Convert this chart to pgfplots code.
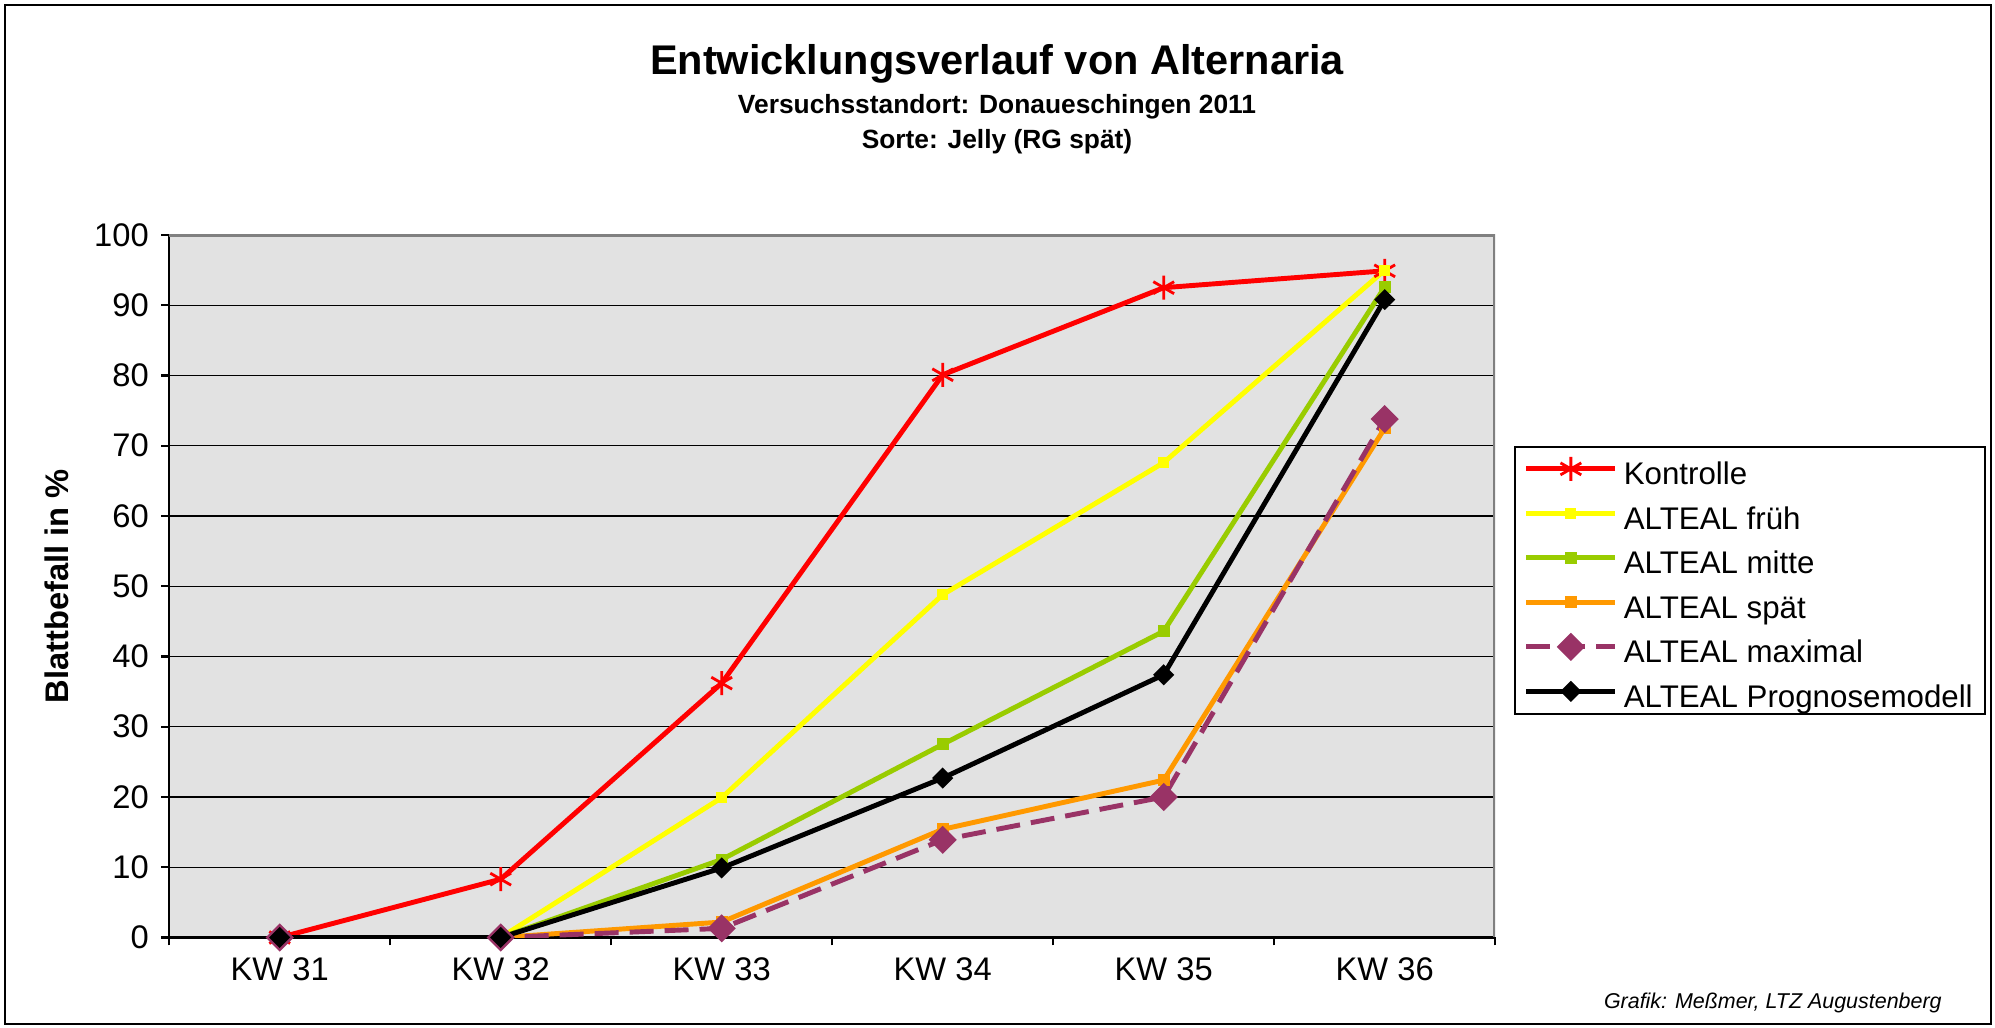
\documentclass[border=0pt]{standalone}
\usepackage{fontspec}
\setmainfont{Liberation Sans}
\usepackage{pgfplots}
\pgfplotsset{compat=1.18}
\definecolor{kontr}{RGB}{255,0,0}
\definecolor{frueh}{RGB}{255,255,0}
\definecolor{mitte}{RGB}{153,204,0}
\definecolor{spaet}{RGB}{255,153,0}
\definecolor{maxi}{RGB}{153,51,102}
\definecolor{bg}{RGB}{226,226,226}
\begin{document}
\begin{tikzpicture}
\useasboundingbox (0,0) rectangle (199.5mm,102.8mm);
\draw[line width=0.6pt] (0.5mm,0.4mm) rectangle (199.1mm,102.3mm);
\node[font=\fontsize{11.8}{14}\selectfont\bfseries] at (99.7mm,96.4mm) {Entwicklungsverlauf von Alternaria};
\node[font=\fontsize{7.5}{9}\selectfont\bfseries] at (99.7mm,92.1mm) {Versuchsstandort: Donaueschingen 2011};
\node[font=\fontsize{7.5}{9}\selectfont\bfseries] at (99.7mm,88.6mm) {Sorte: Jelly (RG spät)};
\node[font=\fontsize{6.1}{7}\selectfont\itshape, anchor=east] at (195.4mm,2.5mm) {Grafik: Meßmer, LTZ Augustenberg};
\begin{axis}[
  at={(16.92mm,9.05mm)}, anchor=south west, scale only axis,
  width=132.6mm, height=70.25mm,
  xmin=-0.5, xmax=5.5, ymin=0, ymax=100,
  xtick={-0.5,0.5,1.5,2.5,3.5,4.5,5.5},
  x tick label as interval,
  xticklabels={KW 31,KW 32,KW 33,KW 34,KW 35,KW 36},
  ytick={0,10,...,100},
  ymajorgrids, grid style={black, line width=0.4pt},
  axis x line*=bottom, axis y line*=left,
  axis line style={-, black, line width=0.7pt},
  axis background/.style={fill=bg},
  tick align=outside, major tick length=0.8mm,
  tick style={black, line width=0.6pt},
  /pgf/number format/assume math mode=true,
  ticklabel style={font=\fontsize{9.3}{11}\selectfont},
  ylabel={Blattbefall in \%},
  ylabel style={font=\fontsize{9.3}{11}\selectfont\bfseries, at={(axis description cs:-0.0845,0.5)}, anchor=center},
  legend style={at={(axis description cs:1.0142,0.700)}, anchor=north west, draw=black, line width=0.5pt, fill=white,
    font=\fontsize{8.9}{10}\selectfont, inner xsep=0.9mm, inner ysep=0mm,
    nodes={inner xsep=0.3mm, inner ysep=0.2mm, text height=3.6mm, text depth=0.45mm},
    /tikz/every odd column/.append style={column sep=0.3mm}},
  legend cell align=left,
  legend image code/.code={\draw[mark repeat=2,mark phase=2] plot coordinates {(0mm,0mm) (4.45mm,0mm) (8.9mm,0mm)};},
]
\addplot[kontr, line width=1.4pt, mark=asterisk, mark size=1.2mm, mark options={line width=0.8pt}] coordinates {(0,0) (1,8.3) (2,36.2) (3,80.1) (4,92.5) (5,94.9)};
\addlegendentry{Kontrolle}
\addplot[frueh, line width=1.4pt, mark=square*, mark size=0.3mm] coordinates {(0,0) (1,0) (2,19.9) (3,48.8) (4,67.6) (5,95.0)};
\addlegendentry{ALTEAL früh}
\addplot[mitte, line width=1.4pt, mark=square*, mark size=0.35mm] coordinates {(0,0) (1,0) (2,11.1) (3,27.5) (4,43.6) (5,92.6)};
\addlegendentry{ALTEAL mitte}
\addplot[spaet, line width=1.4pt, mark=square*, mark size=0.35mm] coordinates {(0,0) (1,0) (2,2.2) (3,15.4) (4,22.4) (5,72.5)};
\addlegendentry{ALTEAL spät}
\addplot[maxi, line width=1.4pt, dash pattern=on 2.4mm off 1.1mm, mark=square*, mark size=0.75mm, mark options={solid, rotate=45}] coordinates {(0,0) (1,0) (2,1.3) (3,13.9) (4,20.0) (5,73.8)};
\addlegendentry{ALTEAL maximal}
\addplot[black, line width=1.4pt, mark=square*, mark size=0.5mm, mark options={rotate=45}] coordinates {(0,0) (1,0) (2,9.9) (3,22.7) (4,37.4) (5,90.8)};
\addlegendentry{ALTEAL Prognosemodell}
\draw[gray, line width=1pt] (rel axis cs:0,1) -- (rel axis cs:1,1) -- (rel axis cs:1,0);
\end{axis}
\end{tikzpicture}
\end{document}
